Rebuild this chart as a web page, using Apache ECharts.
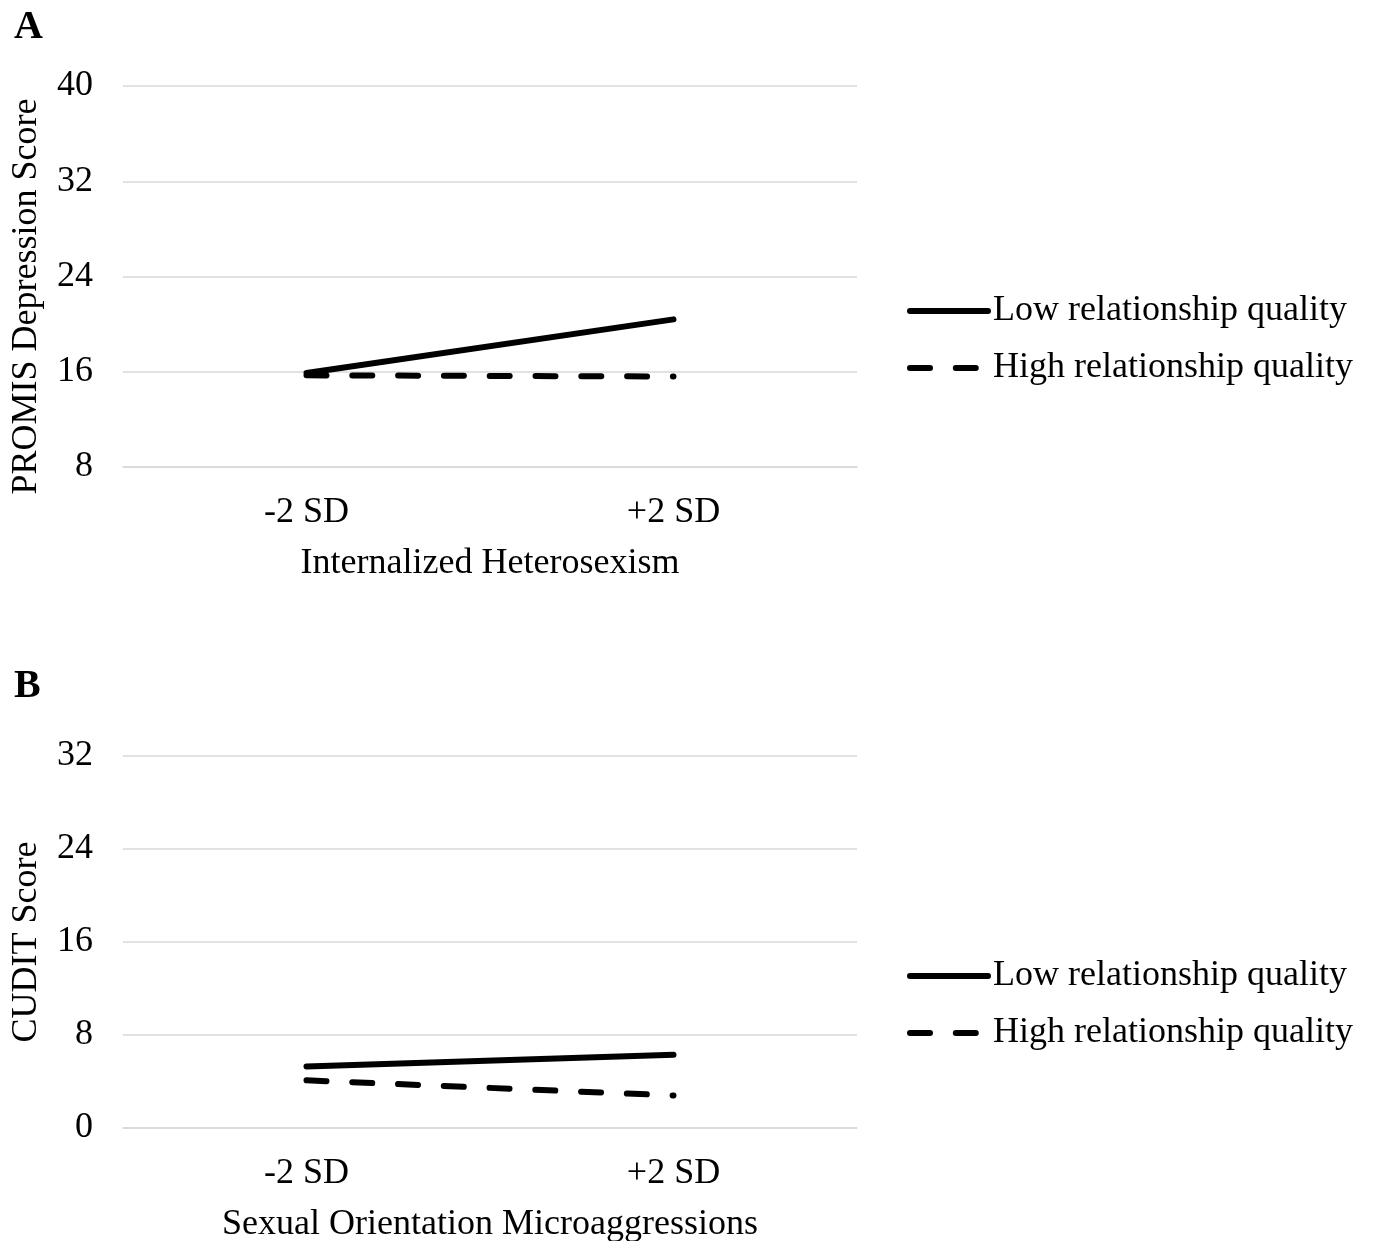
<!DOCTYPE html>
<html>
<head>
<meta charset="utf-8">
<script src="https://cdn.jsdelivr.net/npm/echarts@6/dist/echarts.min.js"></script>
<style>
html,body{margin:0;padding:0;background:#fff;}
#chart{width:1373px;height:1241px;}
</style>
</head>
<body>
<div id="chart"></div>
<script>
const categories = ['-2 SD', '+2 SD'];
const seriesNames = ['Low relationship quality', 'High relationship quality'];
const depressionLow = [15.9, 20.4];
const depressionHigh = [15.7, 15.6];
const cuditLow = [5.3, 6.3];
const cuditHigh = [4.1, 2.8];
const panelLabels = ['A', 'B'];
const yTitles = ['PROMIS Depression Score', 'CUDIT Score'];
const xTitles = ['Internalized Heterosexism', 'Sexual Orientation Microaggressions'];
const yRanges = [[8, 40, 8], [0, 32, 8]];

const FONT = '"Liberation Serif", "Times New Roman", serif';
const GRID_COLOR = '#d9d9d9';
const DASH = [20, 25.8];
const chart = echarts.init(document.getElementById('chart'));

function xAxis(i) {
  return {
    type: 'category', gridIndex: i, data: categories, boundaryGap: true,
    axisLine: { show: true, lineStyle: { color: GRID_COLOR, width: 1.5 } },
    axisTick: { show: false },
    axisLabel: { color: '#000', fontSize: 36, fontFamily: FONT, margin: 28 },
    name: xTitles[i], nameLocation: 'middle', nameGap: 79,
    nameTextStyle: { color: '#000', fontSize: 36, fontFamily: FONT }
  };
}
function yAxis(i) {
  return {
    type: 'value', gridIndex: i, min: yRanges[i][0], max: yRanges[i][1], interval: yRanges[i][2],
    axisLine: { show: false }, axisTick: { show: false },
    splitLine: { show: true, lineStyle: { color: GRID_COLOR, width: 1.5 } },
    axisLabel: { color: '#000', fontSize: 36, fontFamily: FONT, margin: 30 },
    name: yTitles[i], nameLocation: 'middle', nameGap: 78, nameRotate: 90,
    nameTextStyle: { color: '#000', fontSize: 36, fontFamily: FONT, padding: i === 0 ? [0, 40, 0, 0] : 0 }
  };
}
function lineSeries(name, data, i, dashed) {
  return {
    type: 'line', name: name, data: data, xAxisIndex: i, yAxisIndex: i,
    symbol: 'none', showSymbol: false, silent: true, animation: false,
    itemStyle: { color: '#000' },
    lineStyle: { color: '#000', width: 6, cap: 'round', type: dashed ? DASH : 'solid' }
  };
}
function legend(top) {
  return {
    orient: 'vertical', left: 902, top: top, itemWidth: 78, itemHeight: 14, itemGap: 17,
    itemStyle: { opacity: 0 },
    lineStyle: { width: 6, cap: 'round', type: 'inherit', color: '#000' },
    textStyle: { color: '#000', fontSize: 36, fontFamily: FONT, lineHeight: 40 },
    data: seriesNames
  };
}

chart.setOption({
  backgroundColor: '#fff',
  animation: false,
  title: [
    { text: panelLabels[0], left: 9, top: 3, textStyle: { fontSize: 40, fontWeight: 'bold', fontFamily: FONT, color: '#000' } },
    { text: panelLabels[1], left: 9, top: 662, textStyle: { fontSize: 40, fontWeight: 'bold', fontFamily: FONT, color: '#000' } }
  ],
  legend: [legend(286), legend(951)],
  grid: [
    { left: 123, width: 734, top: 86, height: 381, outerBoundsMode: 'none', containLabel: false },
    { left: 123, width: 734, top: 756, height: 372, outerBoundsMode: 'none', containLabel: false }
  ],
  xAxis: [xAxis(0), xAxis(1)],
  yAxis: [yAxis(0), yAxis(1)],
  series: [
    lineSeries(seriesNames[0], depressionLow, 0, false),
    lineSeries(seriesNames[1], depressionHigh, 0, true),
    lineSeries(seriesNames[0], cuditLow, 1, false),
    lineSeries(seriesNames[1], cuditHigh, 1, true)
  ]
});
</script>
</body>
</html>
